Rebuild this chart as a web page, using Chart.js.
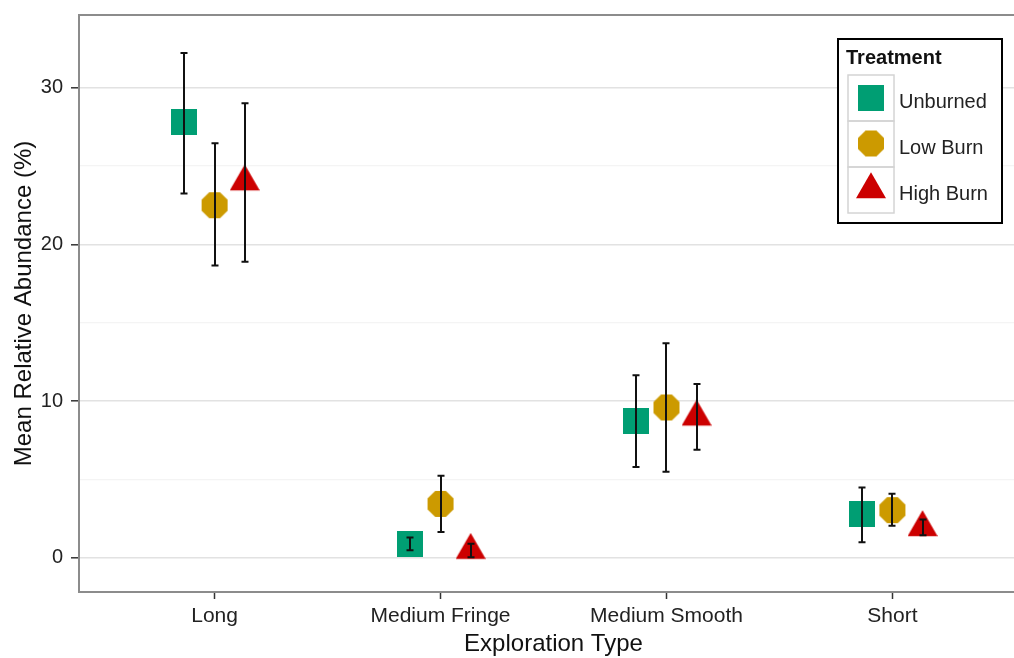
<!DOCTYPE html>
<html lang="en">
<head>
<meta charset="UTF-8">
<title>Mean Relative Abundance by Exploration Type</title>
<script src="https://cdn.jsdelivr.net/npm/chart.js"></script>
<style>
  body { margin: 0; background: #fff; overflow: hidden; }
  #grafico { display: block; }
</style>
</head>
<body>
<canvas id="grafico" width="1028" height="658"></canvas>
<script>
// exploration types on the x axis
const categories = ['Long', 'Medium Fringe', 'Medium Smooth', 'Short'];
const treatments = ['Unburned', 'Low Burn', 'High Burn'];

// means and error bar ends (%)
const unburnedMean = [27.8, 0.9, 8.75, 2.8];
const unburnedLow  = [23.25, 0.5, 5.8, 1.0];
const unburnedHigh = [32.2, 1.3, 11.65, 4.5];

const lowBurnMean = [22.5, 3.45, 9.6, 3.05];
const lowBurnLow  = [18.65, 1.65, 5.5, 2.05];
const lowBurnHigh = [26.45, 5.25, 13.7, 4.1];

const highBurnMean = [24.0, 0.5, 9.0, 1.95];
const highBurnLow  = [18.9, 0.05, 6.9, 1.45];
const highBurnHigh = [29.0, 0.9, 11.1, 2.45];

const yTicks = [0, 10, 20, 30];

const colors = ['#009E73', '#CC9A00', '#CC0000'];
const dodge = 0.4;
const FONT = "'Liberation Sans', Arial, sans-serif";

// marker images (square, octagon, triangle)
function square(color) {
    const c = document.createElement('canvas');
    c.width = 26; c.height = 26;
    const g = c.getContext('2d');
    g.fillStyle = color;
    g.fillRect(0, 0, 26, 26);
    return c;
}

function octagon(color) {
    const c = document.createElement('canvas');
    c.width = 28; c.height = 28;
    const g = c.getContext('2d');
    const r = 13 / Math.cos(Math.PI / 8);
    g.fillStyle = color;
    g.beginPath();
    for (let k = 0; k < 8; k++) {
        const a = Math.PI / 8 + k * Math.PI / 4;
        g.lineTo(14 + r * Math.cos(a), 14 + r * Math.sin(a));
    }
    g.closePath();
    g.fill();
    return c;
}

function triangle(color) {
    const c = document.createElement('canvas');
    const h = 26;
    c.width = 30; c.height = 35;
    const g = c.getContext('2d');
    const cy = 17.5;
    g.fillStyle = color;
    g.beginPath();
    g.moveTo(15, cy - 2 * h / 3);
    g.lineTo(30, cy + h / 3);
    g.lineTo(0, cy + h / 3);
    g.closePath();
    g.fill();
    return c;
}

const markers = [square(colors[0]), octagon(colors[1]), triangle(colors[2])];

const means = [unburnedMean, lowBurnMean, highBurnMean];
const lows = [unburnedLow, lowBurnLow, highBurnLow];
const highs = [unburnedHigh, lowBurnHigh, highBurnHigh];

const datasets = treatments.map(function (nome, t) {
    const shift = (t - 1) * dodge / 3;
    return {
        label: nome,
        data: categories.map(function (c, i) {
            return { x: i + 1 + shift, y: means[t][i], yMin: lows[t][i], yMax: highs[t][i] };
        }),
        pointStyle: markers[t],
        pointRadius: 10,
        showLine: false
    };
});

function noPadding(s) {
    s.paddingTop = 0; s.paddingBottom = 0;
    s.paddingLeft = 0; s.paddingRight = 0;
}

// panel border (ggplot theme_bw style)
const panelBorder = {
    id: 'panelBorder',
    beforeDatasetsDraw(chart) {
        const { ctx, chartArea: a } = chart;
        ctx.save();
        ctx.strokeStyle = '#8c8c8c';
        ctx.lineWidth = 2;
        ctx.strokeRect(a.left, a.top, a.right - a.left, a.bottom - a.top);
        ctx.restore();
    }
};

const errorBars = {
    id: 'errorBars',
    afterDatasetsDraw(chart) {
        const { ctx, scales: { x, y } } = chart;
        ctx.save();
        ctx.strokeStyle = '#111';
        ctx.lineWidth = 2;
        chart.data.datasets.forEach(function (ds) {
            ds.data.forEach(function (p) {
                const px = Math.round(x.getPixelForValue(p.x));
                const top = y.getPixelForValue(p.yMax);
                const bot = y.getPixelForValue(p.yMin);
                ctx.beginPath();
                ctx.moveTo(px, top); ctx.lineTo(px, bot);
                ctx.moveTo(px - 3.5, top); ctx.lineTo(px + 3.5, top);
                ctx.moveTo(px - 3.5, bot); ctx.lineTo(px + 3.5, bot);
                ctx.stroke();
            });
        });
        ctx.restore();
    }
};

// legend with key cells, drawn inside the panel
const legendBox = {
    id: 'legendBox',
    afterDraw(chart) {
        const ctx = chart.ctx;
        const bx = 838, by = 39, bw = 164, bh = 184;
        ctx.save();
        ctx.fillStyle = '#fff';
        ctx.fillRect(bx, by, bw, bh);
        ctx.strokeStyle = '#000';
        ctx.lineWidth = 2;
        ctx.strokeRect(bx, by, bw, bh);
        ctx.fillStyle = '#111';
        ctx.font = 'bold 20px ' + FONT;
        ctx.textBaseline = 'alphabetic';
        ctx.fillText('Treatment', 846, 64);
        chart.data.datasets.forEach(function (ds, i) {
            const cy = 75 + 46 * i;
            ctx.strokeStyle = '#d4d4d4';
            ctx.lineWidth = 1.5;
            ctx.strokeRect(848, cy, 46, 46);
            const img = ds.pointStyle;
            ctx.drawImage(img, 871 - img.width / 2, cy + 22.5 - img.height / 2);
            ctx.fillStyle = '#222';
            ctx.font = '20px ' + FONT;
            ctx.fillText(ds.label, 899, cy + 33);
        });
        ctx.restore();
    }
};

new Chart(document.getElementById('grafico'), {
    type: 'scatter',
    data: { datasets: datasets },
    options: {
        responsive: false,
        animation: false,
        layout: { autoPadding: false, padding: { top: 15, right: 0, left: 0, bottom: 0 } },
        plugins: { legend: { display: false }, tooltip: { enabled: false } },
        scales: {
            x: {
                type: 'linear',
                min: 0.4,
                max: 4.6,
                afterFit: function (s) { s.height = 66; noPadding(s); },
                afterBuildTicks: function (s) {
                    s.ticks = categories.map(function (c, i) { return { value: i + 1 }; });
                },
                ticks: {
                    autoSkip: false,
                    maxRotation: 0,
                    padding: 5,
                    color: '#222',
                    font: { family: FONT, size: 21 },
                    callback: function (v) { return categories[v - 1]; }
                },
                grid: { drawOnChartArea: false, tickLength: 7, tickColor: '#333', tickWidth: 1.5 },
                border: { display: false },
                title: {
                    display: true,
                    text: 'Exploration Type',
                    color: '#111',
                    font: { family: FONT, size: 24, lineHeight: 1 },
                    padding: { top: 0, bottom: 2 }
                }
            },
            y: {
                min: -2.17,
                max: 34.63,
                afterFit: function (s) { s.width = 79; noPadding(s); },
                afterBuildTicks: function (s) {
                    const t = [];
                    for (let v = 0; v <= 30; v += 5) t.push({ value: v });
                    s.ticks = t;
                },
                ticks: {
                    autoSkip: false,
                    padding: 8,
                    color: '#222',
                    font: { family: FONT, size: 20 },
                    callback: function (v) { return yTicks.includes(v) ? v : ''; }
                },
                grid: {
                    color: function (c) { return yTicks.includes(c.tick.value) ? '#e2e2e2' : '#f4f4f4'; },
                    lineWidth: function (c) { return yTicks.includes(c.tick.value) ? 1.6 : 1.2; },
                    tickColor: function (c) { return yTicks.includes(c.tick.value) ? '#333' : 'rgba(0,0,0,0)'; },
                    tickWidth: 1.5,
                    tickLength: 8
                },
                border: { display: false },
                title: {
                    display: true,
                    text: 'Mean Relative Abundance (%)',
                    color: '#111',
                    font: { family: FONT, size: 24, lineHeight: 1 },
                    padding: { top: 12, bottom: 0 }
                }
            }
        }
    },
    plugins: [panelBorder, errorBars, legendBox]
});
</script>
</body>
</html>
